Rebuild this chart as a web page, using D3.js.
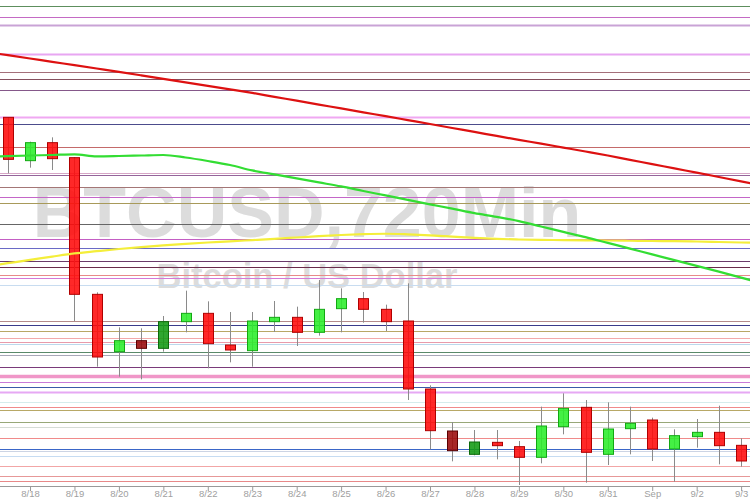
<!DOCTYPE html>
<html>
<head>
<meta charset="utf-8">
<script src="https://cdn.jsdelivr.net/npm/d3@7/dist/d3.min.js"></script>
<style>
  html, body { margin: 0; padding: 0; background: #ffffff; }
  svg { display: block; }
</style>
</head>
<body>
<svg id="chart" width="750" height="500"></svg>
<script>
// ---------------- DATA ----------------
const title = "BTCUSD,720Min";
const subtitle = "Bitcoin / US Dollar";

// 720-minute candles, first one opens 2022-08-17 12:00 UTC
const firstCandle = "2022-08-17T12:00:00Z";
const opens  = [23592,23072,23288,23108,21468,20780,20912,20820,21140,21240,20860,20792,21140,21192,21012,21296,21416,21288,21148,20332,19828,19548,19692,19640,19512,19880,20112,19548,19856,19960,19612,19760,19812,19656];
const highs  = [23592,23300,23352,23116,21492,21072,21060,21208,21512,21384,21256,21256,21388,21320,21640,21540,21496,21344,21600,20376,19936,19840,19840,19708,20120,20280,20200,20172,20120,19988,19848,19972,20132,19740];
const lows   = [22920,22988,22960,21148,20600,20480,20448,20780,21012,20580,20652,20600,21016,20848,20972,21012,21128,21028,20200,19608,19464,19536,19488,19180,19440,19788,19208,19420,19548,19468,19220,19628,19428,19400];
const closes = [23088,23288,23096,21468,20716,20912,20820,21140,21240,20876,20800,21148,21192,21012,21288,21416,21288,21140,20332,19832,19592,19696,19652,19512,19888,20100,19572,19852,19920,19612,19772,19812,19652,19468];

// moving averages, one value per 720-min bar from 2022-08-17 00:00 to 2022-09-03 12:00
const maStart = "2022-08-17T00:00:00Z";
const maRed    = [24378,24338,24298,24258,24218,24178,24138,24096,24053,24011,23970,23928,23885,23838,23792,23745,23699,23652,23606,23559,23512,23464,23417,23369,23322,23276,23229,23182,23134,23082,23031,22979,22928,22876,22824,22773];
const maGreen  = [23116,23126,23134,23140,23148,23124,23128,23134,23140,23110,23068,23020,22955,22907,22859,22811,22763,22708,22655,22601,22548,22496,22442,22398,22346,22282,22217,22154,22085,22017,21947,21879,21810,21740,21669,21597];
const maYellow = [21803,21842,21881,21921,21959,21986,22012,22035,22056,22074,22090,22104,22119,22134,22150,22166,22180,22190,22195,22188,22176,22161,22145,22133,22126,22121,22119,22116,22114,22111,22108,22106,22102,22096,22090,22084];

// horizontal price levels
const levels = [24928,24796,24704,24348,24136,24048,23920,23600,23508,23236,22928,22904,22752,22636,22564,22316,22132,22020,21868,21796,21696,21664,21580,21148,21100,21028,20950,20892,20868,20780,20740,20592,20484,20412,20352,20296,20176,20116,20080,19932,19872,19744,19616,19584,19524,19404,19292,19232];

// x-axis tick dates
const tickDates = ["2022-08-18","2022-08-19","2022-08-20","2022-08-21","2022-08-22","2022-08-23","2022-08-24","2022-08-25","2022-08-26","2022-08-27","2022-08-28","2022-08-29","2022-08-30","2022-08-31","2022-09-01","2022-09-02","2022-09-03"];

// ---------------- STYLE ----------------
const levelColors = ["#5d8f5d","#c46ac4","#c9a3d6","#e8a6f2","#a4707a","#86505e","#85588a","#f0a8f2","#4c4c8c","#c46a6a",
  "#d6a6c6","#94649a","#a47676","#c466c8","#a89a5a","#666666","#c45ec4","#6a6ac6","#6a3a6a","#6a2a4a",
  "#e88a8a","#d478d8","#c8dcf0","#b48a8a","#3a3a8a","#b8a866","#f2aaaa","#e89aaa","#bcd8ec","#5a8a6a",
  "#a8a8b8","#7a3a7a","#f096c8","#c87ad8","#3a5aa8","#e6a8f4","#d6ecec","#f08a8a","#b8a866","#98a878",
  "#d6dcd6","#f08a8a","#3a66c8","#ccd4e4","#c6dcf2","#f2a6a6","#e69898","#e88888"];
const levelWidths = levels.map((d, i) => [2,3,7,35].includes(i) ? 2 : (i === 32 ? 3.5 : 1));

const W = 750, H = 500;
const plotTop = 0, plotBottom = 486;

const svg = d3.select("#chart");

const parse = d3.utcParse("%Y-%m-%dT%H:%M:%SZ");
const t0 = parse(firstCandle);
const candleTimes = opens.map((d, i) => d3.utcHour.offset(t0, 12 * i));
const m0 = parse(maStart);
const maTimes = maRed.map((d, i) => d3.utcHour.offset(m0, 12 * i));

const x = d3.scaleUtc()
  .domain([candleTimes[0], candleTimes[candleTimes.length - 1]])
  .range([7.8, 741.1]);

const y = d3.scaleLinear()
  .domain([19168, 25000])
  .range([plotBottom, plotTop]);

svg.append("defs").append("clipPath").attr("id", "plotclip")
  .append("rect").attr("x", 0).attr("y", 0).attr("width", W).attr("height", plotBottom);

// watermark
const wm = svg.append("g").attr("font-family", "'Liberation Sans', Arial, sans-serif").attr("font-weight", "bold").attr("fill", "#dcdcdc").attr("text-anchor", "middle");
wm.append("text").attr("x", 307).attr("y", 237).attr("font-size", 70).text(title);
wm.append("text").attr("x", 307).attr("y", 288).attr("font-size", 34.5).text(subtitle);

const plot = svg.append("g").attr("clip-path", "url(#plotclip)");

// horizontal levels
plot.append("g").selectAll("line").data(levels).join("line")
  .attr("x1", 0).attr("x2", W)
  .attr("y1", d => Math.round(y(d)) + 0.5).attr("y2", d => Math.round(y(d)) + 0.5)
  .attr("stroke", (d, i) => levelColors[i])
  .attr("stroke-width", (d, i) => levelWidths[i]);

// candles
const isDark = t => (t.getUTCDay() === 6 && t.getUTCHours() === 12) || (t.getUTCDay() === 0 && t.getUTCHours() === 0);
const candles = opens.map((o, i) => ({ t: candleTimes[i], o, h: highs[i], l: lows[i], c: closes[i] }));
const bodyW = 10;

const cg = plot.append("g");
cg.selectAll("line.wick").data(candles).join("line")
  .attr("class", "wick")
  .attr("x1", d => Math.round(x(d.t)) + 0.5).attr("x2", d => Math.round(x(d.t)) + 0.5)
  .attr("y1", d => y(d.h)).attr("y2", d => y(d.l))
  .attr("stroke", "#8a8a8a").attr("stroke-width", 1);

cg.selectAll("rect.body").data(candles).join("rect")
  .attr("class", "body")
  .attr("x", d => Math.round(x(d.t)) - bodyW / 2 + 0.5)
  .attr("y", d => y(Math.max(d.o, d.c)))
  .attr("width", bodyW)
  .attr("height", d => Math.max(1, Math.abs(y(d.o) - y(d.c))))
  .attr("fill", d => {
    const up = d.c >= d.o;
    if (isDark(d.t)) return up ? "#129a12" : "#9a0a0a";
    return up ? "#2aee2a" : "#ff0a0a";
  })
  .attr("fill-opacity", 0.88)
  .attr("stroke", d => {
    const up = d.c >= d.o;
    if (isDark(d.t)) return up ? "#0a6a0a" : "#5a0000";
    return up ? "#12a812" : "#b00000";
  })
  .attr("stroke-width", 1);

// moving averages
const maLine = d3.line().x((d, i) => x(maTimes[i])).y(d => y(d)).curve(d3.curveMonotoneX);
[[maYellow, "#f4ee3a"], [maGreen, "#33dd33"], [maRed, "#dd1111"]].forEach(([arr, col]) => {
  plot.append("path").datum(arr).attr("d", maLine)
    .attr("fill", "none").attr("stroke", col).attr("stroke-width", 2.2)
    .attr("stroke-linejoin", "round");
});

// x axis
const fmt = d => d.getUTCDate() === 1 ? d3.utcFormat("%b")(d) : `${d.getUTCMonth() + 1}/${d.getUTCDate()}`;
const xAxis = d3.axisBottom(x)
  .tickValues(tickDates.map(s => d3.utcParse("%Y-%m-%d")(s)))
  .tickFormat(fmt)
  .tickSize(5)
  .tickSizeOuter(0);
const ax = svg.append("g").attr("transform", `translate(0,${plotBottom})`).call(xAxis);
ax.select(".domain").attr("stroke", "#999").attr("d", `M0,0.5H${W}`);
ax.selectAll(".tick line").attr("stroke", "#999");
ax.selectAll(".tick text").attr("fill", "#a0a0a0").attr("font-family", "'Liberation Sans', Arial, sans-serif").attr("font-size", 9.5).attr("dy", "0.6em").attr("y", 5);
</script>
</body>
</html>
